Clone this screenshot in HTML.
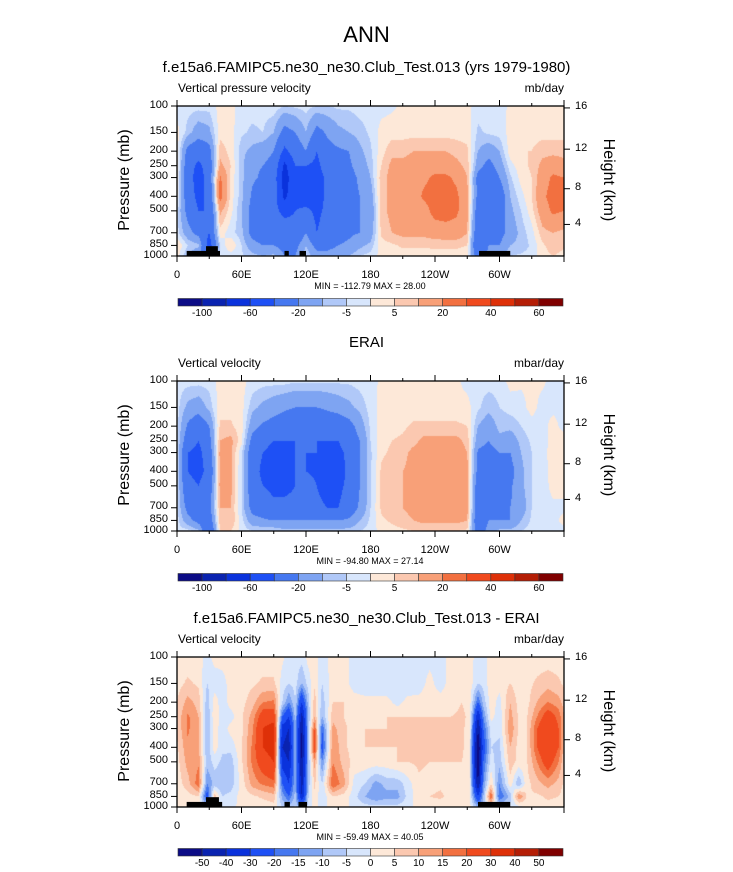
<!DOCTYPE html>
<html><head><meta charset="utf-8"><style>
body{margin:0;background:#fff;width:733px;height:872px;position:relative;overflow:hidden;font-family:"Liberation Sans",sans-serif}
.t{position:absolute;white-space:nowrap;color:#000}
canvas{position:absolute}
</style></head><body>
<div class="t" style="left:0;width:733px;text-align:center;top:22px;font-size:22px">ANN</div>
<div id="root"></div>
<script>
// ---------- data ----------
const pressures = [100,150,200,250,300,400,500,700,850,1000];
const colors = ["#0c0c86","#0a23b0","#0a32dc","#1e50f5","#4678f0","#7ea4f2","#b0c8f8","#d8e6fc","#fde8d8","#fbc8b0","#f8a078","#f27040","#f04a1e","#de3008","#b41e06","#800000"];
const levels12 = [-100,-80,-60,-40,-20,-10,-5,0,5,10,20,30,40,50,60];
const cbLabels12 = ["-100","-60","-20","-5","5","20","40","60"];
const levels3 = [-50,-40,-30,-20,-15,-10,-5,0,5,10,15,20,30,40,50];
const cbLabels3 = ["-50","-40","-30","-20","-15","-10","-5","0","5","10","15","20","30","40","50"];
const lonTicks = [0,60,120,180,240,300];
const lonTickLabels = ["0","60E","120E","180","120W","60W"];
const pTickLabels = ["100","150","200","250","300","400","500","700","850","1000"];
const heightTicks = [16,12,8,4];
const heightTickPressure = [103,194,356,616];

const lons1 = [0,10,20,30,40,50,60,70,80,90,100,110,120,130,140,150,160,170,180,190,200,210,220,230,240,250,260,270,280,290,300,310,320,330,340,350,360];
const values1 = [
[-2,2,3,3,2,2,-3,-3,5,2],
[-3,-7,-25,-30,-30,-30,-25,-15,-5,-10],
[-3,-15,-30,-45,-50,-45,-40,-25,-8,-20],
[-3,-12,-25,-30,-30,-35,-40,-40,-50,-30],
[2,3,8,12,22,25,12,3,-5,-3],
[2,2,3,5,4,3,2,-3,5,-3],
[-3,-4,-8,-8,-8,-8,-10,-8,-5,-4],
[-3,-6,-12,-18,-18,-22,-25,-25,-15,-8],
[-3,-5,-15,-20,-22,-30,-30,-30,-20,-10],
[-2,-10,-20,-25,-30,-30,-35,-30,-20,-8],
[-5,-25,-45,-65,-70,-65,-45,-30,-25,-20],
[-4,-20,-30,-40,-45,-45,-40,-35,-25,-20],
[-3,-10,-20,-40,-50,-55,-35,-20,-10,-5],
[-5,-25,-40,-45,-50,-50,-45,-40,-25,-15],
[-5,-18,-25,-30,-35,-35,-35,-30,-25,-15],
[-4,-12,-22,-25,-25,-30,-30,-25,-20,-12],
[-4,-10,-20,-22,-25,-25,-28,-22,-18,-10],
[-3,-7,-12,-15,-18,-20,-20,-20,-12,-5],
[-3,-4,-6,-8,-10,-15,-18,-15,-8,-3],
[-2,2,3,5,8,8,8,6,3,2],
[-1,3,8,12,12,12,12,10,4,2],
[1,3,8,12,14,14,14,12,6,2],
[1,3,10,14,15,15,15,12,6,2],
[2,3,10,15,18,22,16,12,6,2],
[2,3,10,15,22,24,24,14,6,3],
[2,3,10,15,22,25,25,15,6,3],
[2,3,8,12,18,22,22,15,6,3],
[2,3,6,8,10,12,12,10,5,2],
[-3,-6,-10,-15,-25,-25,-30,-35,-40,-30],
[-2,-4,-15,-25,-30,-35,-40,-35,-20,-15],
[-2,-3,-10,-15,-20,-30,-30,-25,-20,-10],
[1,2,3,-2,-6,-10,-12,-15,-10,-5],
[1,3,5,3,2,-2,-5,-8,-8,-4],
[1,3,5,6,5,5,3,-2,-4,-3],
[1,3,8,12,15,18,15,8,4,3],
[1,3,8,15,22,24,22,10,8,5],
[0,3,8,12,20,22,20,8,6,3]];

const lons2 = lons1;
const values2 = [
[-3,-3,-3,-3,-3,-3,-3,-3,-3,-3],
[-3,-12,-22,-30,-40,-40,-35,-25,-15,-3],
[-3,-15,-30,-40,-45,-45,-40,-35,-25,-8],
[-3,-8,-20,-25,-30,-35,-30,-25,-30,-40],
[2,3,6,10,12,12,12,10,8,5],
[2,3,6,12,12,12,12,10,10,5],
[2,2,2,2,-4,-5,-5,-5,-3,-2],
[-2,-8,-15,-25,-30,-30,-30,-25,-15,-5],
[-3,-12,-22,-35,-40,-45,-40,-30,-18,-5],
[-3,-15,-25,-40,-45,-50,-45,-35,-20,-5],
[-3,-18,-28,-40,-50,-50,-45,-35,-20,-8],
[-4,-20,-30,-40,-40,-40,-40,-35,-20,-8],
[-4,-20,-35,-40,-40,-40,-35,-30,-20,-8],
[-4,-20,-35,-40,-40,-42,-40,-35,-20,-8],
[-4,-18,-30,-40,-45,-50,-50,-40,-20,-8],
[-4,-15,-30,-40,-45,-50,-45,-40,-20,-8],
[-4,-12,-25,-30,-35,-35,-35,-30,-18,-7],
[-3,-8,-15,-20,-20,-20,-20,-18,-10,-5],
[-2,-3,-4,-5,-6,-6,-6,-5,-4,-3],
[1,2,3,3,4,6,6,6,4,2],
[1,2,3,5,6,8,8,8,6,3],
[1,2,4,6,8,10,10,10,8,4],
[1,2,6,8,12,12,12,12,10,5],
[1,2,6,12,12,12,12,12,12,5],
[1,2,6,12,12,14,14,14,12,5],
[1,2,6,12,14,14,14,14,12,5],
[1,2,6,12,14,14,14,14,12,5],
[-2,2,5,8,10,12,12,12,10,4],
[-3,-4,-10,-15,-22,-25,-30,-30,-35,-30],
[-3,-8,-15,-20,-25,-30,-30,-25,-20,-15],
[-3,-5,-8,-12,-20,-22,-25,-22,-20,-8],
[2,-3,-8,-15,-20,-25,-22,-20,-20,-8],
[1,-2,-5,-8,-10,-12,-12,-15,-10,-5],
[1,2,-2,-4,-5,-5,-5,-5,-4,-3],
[1,-2,-3,-4,-4,-4,-4,-4,-4,-3],
[-2,-2,3,4,5,4,3,-2,-3,-3],
[-2,-3,-3,4,5,4,3,-2,3,-3]];

const lons3 = [0,10,20,28,35,42,50,60,70,80,90,98,104,110,116,122,128,135,145,155,165,175,185,195,205,215,225,235,245,255,265,272,280,285,292,300,310,318,325,335,345,355,360];
const values3 = [
[2,3,5,6,6,4,3,2,2,2],
[2,6,12,16,16,14,12,8,3,2],
[2,4,8,10,10,10,14,18,5,2],
[-2,-5,-8,-10,-10,-10,-8,-15,-25,-10],
[2,-3,3,4,3,3,-3,-8,8,-5],
[2,-2,-3,-3,-3,-4,-6,-10,-5,-3],
[2,2,2,-2,2,-3,-8,-8,-3,-2],
[2,2,3,4,4,4,4,2,2,2],
[2,4,8,12,14,16,16,12,4,2],
[2,6,15,25,30,30,25,16,6,2],
[2,6,16,25,35,35,30,18,8,3],
[1,-2,-5,-20,-35,-40,-35,-20,-12,-5],
[-2,-5,-15,-30,-40,-45,-40,-30,-20,-8],
[-2,-3,-5,-8,-10,-10,-10,-10,-8,-4],
[-3,-10,-30,-45,-50,-55,-50,-45,-40,-15],
[2,-3,-8,-10,-10,-10,-10,-8,-6,-3],
[2,4,8,10,20,25,12,6,4,2],
[-2,-5,-8,-10,-20,-25,-15,-5,-4,-2],
[2,3,5,8,12,15,15,20,5,2],
[2,3,5,5,6,6,8,12,3,2],
[-2,-3,3,3,3,3,3,-2,-3,-2],
[-3,-4,2,3,5,5,3,-5,-10,-3],
[-3,-4,2,3,5,5,3,-12,-15,-3],
[-3,-4,2,5,5,5,3,-8,-12,-3],
[-3,-4,-2,5,5,5,5,-8,-12,-3],
[-3,-4,2,5,6,6,5,-2,-3,-2],
[-3,-3,2,5,6,6,6,4,3,2],
[-2,2,3,5,6,5,5,3,5,2],
[-2,-3,3,5,6,6,5,4,6,2],
[2,3,3,5,6,6,5,3,3,2],
[2,3,5,6,6,6,5,4,3,2],
[2,3,3,4,3,2,2,2,2,2],
[-2,-5,-20,-40,-50,-60,-60,-50,-30,-10],
[-2,-3,-8,-15,-20,-25,-20,-15,-10,-8],
[2,3,3,2,-3,-5,-3,5,20,3],
[2,2,-2,-3,-4,-6,-8,-15,-20,-5],
[2,5,10,12,14,10,8,3,-8,-3],
[2,2,3,4,4,3,3,-10,15,-2],
[2,3,3,4,4,4,4,3,5,2],
[2,6,10,15,20,20,15,8,4,2],
[2,8,15,25,30,30,25,12,6,3],
[2,6,12,18,20,20,15,8,5,3],
[2,4,8,10,10,8,6,4,3,2]];

// topography mask blocks: [lonStart, lonEnd, topPressure]
const topo1 = [[9,40,925],[27,38,860],[100,104,925],[114,120,925],[281,310,925]];
const topo3 = [[9,42,925],[27,39,860],[100,105,925],[113,121,925],[280,310,925]];

// ---------- layout ----------
const PX=177, PW=387, PH=150;
const panels = [
 {top:105.5, title:"f.e15a6.FAMIPC5.ne30_ne30.Club_Test.013 (yrs 1979-1980)", left:"Vertical pressure velocity", right:"mb/day", lons:lons1, vals:values1, topo:topo1, levels:levels12, cbl:cbLabels12, cbEvery:2, cbStart:1, minmax:"MIN = -112.79  MAX =  28.00", cbTop:298},
 {top:380.5, title:"ERAI", left:"Vertical velocity", right:"mbar/day", lons:lons2, vals:values2, topo:[], levels:levels12, cbl:cbLabels12, cbEvery:2, cbStart:1, minmax:"MIN = -94.80  MAX =  27.14", cbTop:573},
 {top:656.5, title:"f.e15a6.FAMIPC5.ne30_ne30.Club_Test.013 - ERAI", left:"Vertical velocity", right:"mbar/day", lons:lons3, vals:values3, topo:topo3, levels:levels3, cbl:cbLabels3, cbEvery:1, cbStart:1, minmax:"MIN = -59.49  MAX =  40.05", cbTop:848}
];
const xOf = lon => lon/360*PW;
const yOf = p => (Math.log10(p)-2)*PH;
const root = document.getElementById('root');
function div(html, style, name){const d=document.createElement('div');d.className='t';d.innerHTML=html;d.style.cssText=style;


root.appendChild(d);return d;}
function lvl(v,levels){let i=0;while(i<levels.length&&v>=levels[i])i++;return i;}
function bracket(arr,v){let i=0;while(i<arr.length-2&&arr[i+1]<v)i++;return i;}
const lp = pressures.map(p=>Math.log10(p));
const NS="http://www.w3.org/2000/svg";
panels.forEach((P,k)=>{
  const T=P.top;
  div(P.title,`left:0;width:733px;text-align:center;top:${T-47}px;font-size:15px`,'panel-title-'+(k+1));
  div(P.left,`left:${PX+1}px;top:${T-25}px;font-size:12px`,'variable-label-'+(k+1));
  div(P.right,`left:${PX+PW-100}px;width:100px;text-align:right;top:${T-25}px;font-size:12px`,'units-label-'+(k+1));
  // field canvas
  const c=document.createElement('canvas');c.width=PW;c.height=PH;c.style.left=PX+'px';c.style.top=T+'px';
  
  
  root.appendChild(c);
  const ctx=c.getContext('2d');const img=ctx.createImageData(PW,PH);
  const rgb=colors.map(h=>[parseInt(h.substr(1,2),16),parseInt(h.substr(3,2),16),parseInt(h.substr(5,2),16)]);
  for(let y=0;y<PH;y++){const L=2+(y+0.5)/PH;const j=bracket(lp,L);const ty=Math.min(1,Math.max(0,(L-lp[j])/(lp[j+1]-lp[j])));
    for(let x=0;x<PW;x++){const lon=(x+0.5)/PW*360;const i=bracket(P.lons,lon);const tx=Math.min(1,Math.max(0,(lon-P.lons[i])/(P.lons[i+1]-P.lons[i])));
      const v=(P.vals[i][j]*(1-tx)+P.vals[i+1][j]*tx)*(1-ty)+(P.vals[i][j+1]*(1-tx)+P.vals[i+1][j+1]*tx)*ty;
      const col=rgb[lvl(v,P.levels)];const o=(y*PW+x)*4;img.data[o]=col[0];img.data[o+1]=col[1];img.data[o+2]=col[2];img.data[o+3]=255;}}
  ctx.putImageData(img,0,0);
  // svg overlay for frame, ticks, topo
  const s=document.createElementNS(NS,'svg');s.setAttribute('width',733);s.setAttribute('height',PH+20);
  s.style.cssText=`position:absolute;left:0;top:${T-8}px;overflow:visible`;
  
  
  root.appendChild(s);
  const g=`translate(${PX},8)`;
  let h=`<g transform="${g}">`;
  P.topo.forEach(b=>{h+=`<rect x="${xOf(b[0])}" y="${yOf(b[2])}" width="${xOf(b[1])-xOf(b[0])}" height="${PH-yOf(b[2])}" fill="#000"/>`;});
  h+=`<rect x="0" y="0" width="${PW}" height="${PH}" fill="none" stroke="#000" stroke-width="1.3"/>`;
  for(let lon=0;lon<=360;lon+=30){const len=lon%60===0?6:3;const x=xOf(lon);
    h+=`<line x1="${x}" x2="${x}" y1="${PH}" y2="${PH+len}" stroke="#000"/><line x1="${x}" x2="${x}" y1="0" y2="${-len}" stroke="#000"/>`;}
  pressures.forEach(p=>{const y=yOf(p);h+=`<line x1="0" x2="-6" y1="${y}" y2="${y}" stroke="#000"/>`;});
  heightTickPressure.forEach(p=>{const y=yOf(p);h+=`<line x1="${PW}" x2="${PW+6}" y1="${y}" y2="${y}" stroke="#000"/>`;});
  h+='</g>';s.innerHTML=h;
  pressures.forEach((p,i)=>div(pTickLabels[i],`left:120px;width:48px;text-align:right;top:${T+yOf(p)-7}px;font-size:11px`,'pressure-tick-label'));
  heightTicks.forEach((z,i)=>div(String(z),`left:${PX+PW+11}px;top:${T+yOf(heightTickPressure[i])-7}px;font-size:11px`,'height-tick-label'));
  lonTicks.forEach((lon,i)=>div(lonTickLabels[i],`left:${PX+xOf(lon)-30}px;width:60px;text-align:center;top:${T+PH+13}px;font-size:11px`,'longitude-tick-label'));
  div('Pressure (mb)',`left:${125-60}px;width:120px;text-align:center;top:${T+PH/2-10}px;font-size:16px;transform:rotate(-90deg)`,'y-axis-title');
  div('Height (km)',`left:${608-60}px;width:120px;text-align:center;top:${T+PH/2-10}px;font-size:16px;transform:rotate(90deg)`,'right-axis-title');
  div(P.minmax,`left:0;width:740px;text-align:center;top:${T+PH+25}px;font-size:9px`,'min-max-label');
  // colorbar
  const cb=document.createElementNS(NS,'svg');cb.setAttribute('width',400);cb.setAttribute('height',10);
  cb.style.cssText=`position:absolute;left:177px;top:${P.cbTop}px`;
  
  
  root.appendChild(cb);
  const bw=385/16;let ch='';
  colors.forEach((c2,i)=>{ch+=`<rect x="${1+i*bw}" y="0.5" width="${bw}" height="7.5" fill="${c2}" stroke="#333" stroke-width="0.6"/>`;});
  cb.innerHTML=ch;
  P.cbl.forEach((lab,i)=>{const b=P.cbStart+i*P.cbEvery;
    div(lab,`left:${177+1+b*bw-20}px;width:40px;text-align:center;top:${P.cbTop+10}px;font-size:10px`,'colorbar-label');});
});
</script>
</body></html>
